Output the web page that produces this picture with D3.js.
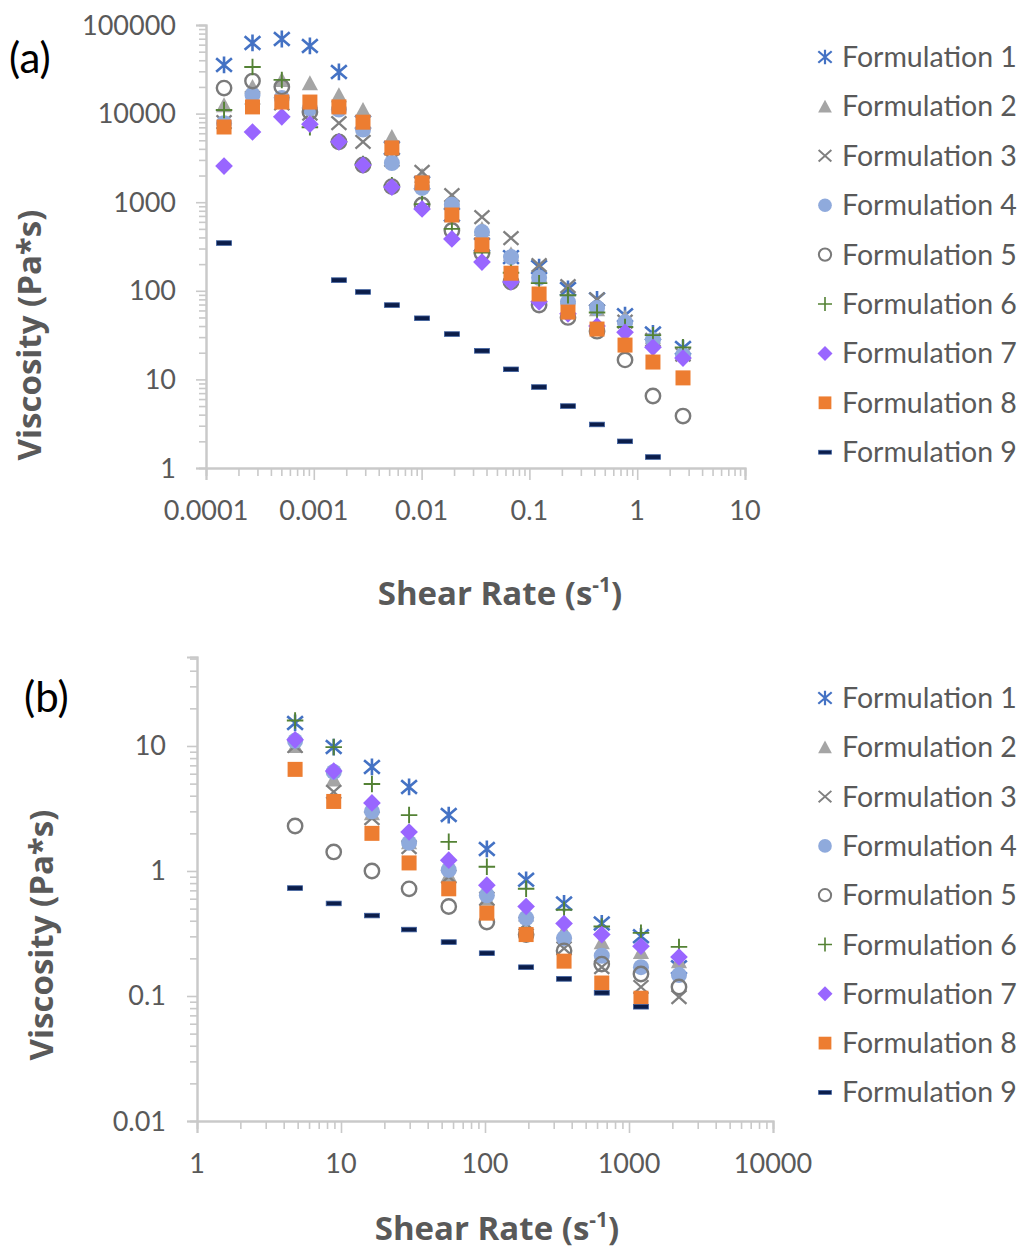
<!DOCTYPE html>
<html><head><meta charset="utf-8">
<script src="https://cdn.jsdelivr.net/npm/d3@7"></script>
<style>body{margin:0;background:#fff} svg{display:block}</style>
</head><body>
<svg id="c" width="1026" height="1249"></svg>
<script>
// ---------- DATA ----------
const SERIES_NAMES = ["Formulation 1","Formulation 2","Formulation 3","Formulation 4","Formulation 5","Formulation 6","Formulation 7","Formulation 8","Formulation 9"];

// Panel (a)
const SHEAR_A = [1.47e-4, 2.7e-4, 5.05e-4, 9.2e-4, 1.71e-3, 2.86e-3, 5.3e-3, 0.0101, 0.0191, 0.0363, 0.0675, 0.123, 0.228, 0.424, 0.771, 1.40, 2.66];
const F1_A = [35400, 62700, 69500, 58000, 29500, 8000, 4100, 1650, 720, 330, 240, 185, 105, 80, 53, 33, 22.6];
const F2_A = [12500, 20000, 24000, 22100, 16200, 11000, 5450, 2000, 1050, 500, 260, 150, 85, 62, 50, 30, 20];
const F3_A = [8000, 15000, 13000, 10000, 7800, 4800, 3000, 2200, 1205, 680, 394, 195, 113, 80, 45, 28, 19];
const F4_A = [7800, 16200, 15000, 11500, 11100, 6600, 2770, 1450, 935, 460, 240, 140, 75, 64, 44, 28, 18.8];
const F5_A = [19400, 23300, 20000, 10400, 4800, 2630, 1500, 930, 480, 267, 126, 69, 50, 35, 16.6, 6.5, 3.86];
const F6_A = [11000, 33600, 24000, 7000, 4800, 2700, 1550, 950, 500, 270, 160, 122, 89, 57, 39, 31.6, 23];
const F7_A = [2560, 6200, 9200, 7600, 4800, 2630, 1480, 840, 385, 211, 126, 75, 55, 40, 34, 23, 17.4];
const F8_A = [7060, 11900, 13500, 13500, 11900, 8000, 4100, 1650, 717, 330, 158, 92, 57.5, 37, 24.4, 15.7, 10.4];
const F9_A = [346, null, null, null, 132, 97, 69, 49, 32.5, 21, 13, 8.2, 5, 3.1, 2.0, 1.33, null];

// Panel (b)
const SHEAR_B = [4.8, 8.9, 16.4, 29.7, 56, 103, 193, 354, 647, 1211, 2224];
const F1_B = [15.3, 9.8, 6.8, 4.7, 2.8, 1.5, 0.85, 0.55, 0.38, 0.30, 0.17];
const F2_B = [10, 5.4, 2.9, 1.7, 0.93, 0.6, 0.45, 0.33, 0.27, 0.225, 0.19];
const F3_B = [10, 4.3, 2.65, 1.55, 0.9, 0.6, 0.38, 0.24, 0.17, 0.118, 0.098];
const F4_B = [11, 6.2, 3.0, 1.68, 1.02, 0.64, 0.42, 0.29, 0.21, 0.17, 0.147];
const F5_B = [2.29, 1.42, 1.0, 0.72, 0.52, 0.39, 0.31, 0.23, 0.18, 0.15, 0.118];
const F6_B = [16, 9.8, 4.96, 2.8, 1.71, 1.08, 0.72, 0.49, 0.36, 0.32, 0.247];
const F7_B = [11.2, 6.3, 3.5, 2.05, 1.22, 0.77, 0.52, 0.38, 0.31, 0.25, 0.205];
const F8_B = [6.5, 3.6, 2.0, 1.16, 0.72, 0.46, 0.31, 0.19, 0.127, 0.096, null];
const F9_B = [0.73, 0.55, 0.44, 0.34, 0.27, 0.22, 0.17, 0.137, 0.106, 0.082, null];

// Ticks
const Y_TICKS_A = [1, 10, 100, 1000, 10000, 100000];
const Y_LABELS_A = ["1", "10", "100", "1000", "10000", "100000"];
const X_TICKS_A = [0.0001, 0.001, 0.01, 0.1, 1, 10];
const X_LABELS_A = ["0.0001", "0.001", "0.01", "0.1", "1", "10"];
const Y_TICKS_B = [0.01, 0.1, 1, 10];
const Y_LABELS_B = ["0.01", "0.1", "1", "10"];
const X_TICKS_B = [1, 10, 100, 1000, 10000];
const X_LABELS_B = ["1", "10", "100", "1000", "10000"];

const Y_TITLE = "Viscosity (Pa*s)";
const X_TITLE = "Shear Rate (s";

// ---------- STYLE ----------
const MARKERS = ["star","triangle","x","dot","ring","plus","diamond","square","dash"];
const COLORS = ["#4472C4","#A5A5A5","#808080","#8FAADC","#7A7A7A","#548235","#9966FF","#ED7D31","#0B1D4A"];
const TXT = "#595959";
const AXIS = "#C9C9C9";
const FONT = "Lato, 'Open Sans', sans-serif";
const TFONT = "'Open Sans', Lato, sans-serif";

const svg = d3.select("#c");

function marker(g, type, color, k) {
  const s = 15 * k, h = s / 2;
  switch (type) {
    case "star":
      g.append("path").attr("d", `M${-h*1.05},${-h*0.9}L${h*1.05},${h*0.9}M${-h*1.05},${h*0.9}L${h*1.05},${-h*0.9}M0,${-h*1.12}L0,${h*1.12}`)
        .attr("stroke", color).attr("stroke-width", 2.6 * k).attr("fill", "none"); break;
    case "triangle":
      g.append("path").attr("d", `M0,${-h*1.05}L${h*1.08},${h*0.95}L${-h*1.08},${h*0.95}Z`).attr("fill", color); break;
    case "x":
      g.append("path").attr("d", `M${-h},${-h*0.9}L${h},${h*0.9}M${-h},${h*0.9}L${h},${-h*0.9}`)
        .attr("stroke", color).attr("stroke-width", 2.3 * k).attr("fill", "none"); break;
    case "dot":
      g.append("circle").attr("r", h * 1.07).attr("fill", color); break;
    case "ring":
      g.append("circle").attr("r", h - 0.3 * k).attr("fill", "none").attr("stroke", color).attr("stroke-width", 2.4 * k); break;
    case "plus":
      g.append("path").attr("d", `M${-h*1.1},0L${h*1.1},0M0,${-h*1.1}L0,${h*1.1}`)
        .attr("stroke", color).attr("stroke-width", 1.9 * k).attr("fill", "none"); break;
    case "diamond":
      g.append("path").attr("d", `M0,${-h*1.18}L${h*1.18},0L0,${h*1.18}L${-h*1.18},0Z`).attr("fill", color); break;
    case "square":
      g.append("rect").attr("x", -h).attr("y", -h).attr("width", s).attr("height", s).attr("fill", color); break;
    case "dash":
      g.append("rect").attr("x", -h).attr("y", -2.3 * k).attr("width", s).attr("height", 4.6 * k)
        .attr("fill", color).attr("stroke", "#3D5F9E").attr("stroke-width", 0.8); break;
  }
}

function minorTicks(domain) {
  const out = [];
  const lo = Math.floor(Math.log10(domain[0])), hi = Math.ceil(Math.log10(domain[1]));
  for (let e = lo; e < hi; e++) for (let m = 2; m <= 9; m++) {
    const v = m * Math.pow(10, e);
    if (v >= domain[0] * 0.999 && v <= domain[1] * 1.001) out.push(v);
  }
  return out;
}

function panel(cfg) {
  const x = d3.scaleLog().domain(cfg.xDom).range(cfg.xRange);
  const y = d3.scaleLog().domain(cfg.yDom).range(cfg.yRange);
  const g = svg.append("g");

  const yMinor = g.append("g").attr("transform", `translate(${cfg.xRange[0]},0)`)
    .call(d3.axisLeft(y).tickValues(minorTicks(cfg.yDom)).tickSize(7).tickFormat(""));
  const yMajor = g.append("g").attr("transform", `translate(${cfg.xRange[0]},0)`)
    .call(d3.axisLeft(y).tickValues(cfg.yTicks).tickSize(10).tickFormat(""));
  const xMinor = g.append("g").attr("transform", `translate(0,${cfg.yRange[0]})`)
    .call(d3.axisBottom(x).tickValues(minorTicks(cfg.xDom)).tickSize(8).tickFormat(""));
  const xMajor = g.append("g").attr("transform", `translate(0,${cfg.yRange[0]})`)
    .call(d3.axisBottom(x).tickValues(cfg.xTicks).tickSize(12).tickFormat(""));
  [yMinor, yMajor, xMinor, xMajor].forEach(a => {
    a.selectAll("path.domain").attr("stroke", AXIS).attr("stroke-width", 2);
    a.selectAll(".tick line").attr("stroke", AXIS).attr("stroke-width", 1.6);
  });

  g.selectAll(".yl").data(cfg.yTicks).join("text")
    .attr("x", cfg.yLabelX).attr("y", d => y(d) + 9.5)
    .attr("text-anchor", "end").attr("fill", TXT)
    .style("font", `27px ${FONT}`).text((d, i) => cfg.yLabels[i]);
  g.selectAll(".xl").data(cfg.xTicks).join("text")
    .attr("x", d => x(d)).attr("y", cfg.xLabelY)
    .attr("text-anchor", "middle").attr("fill", TXT)
    .style("font", `27px ${FONT}`).text((d, i) => cfg.xLabels[i]);

  g.append("text").attr("transform", `translate(${cfg.yTitleX},${cfg.yTitleY}) rotate(-90)`)
    .attr("text-anchor", "middle").attr("fill", TXT)
    .style("font", `bold 33px ${TFONT}`).text(Y_TITLE);
  const xt = g.append("text").attr("x", cfg.xTitleX).attr("y", cfg.xTitleY)
    .attr("text-anchor", "middle").attr("fill", TXT).style("font", `bold 33px ${TFONT}`);
  xt.append("tspan").text(X_TITLE);
  xt.append("tspan").attr("dy", -13).style("font-size", "21px").text("-1");
  xt.append("tspan").attr("dy", 13).text(")");

  g.append("text").attr("x", cfg.tagX).attr("y", cfg.tagY).attr("fill", "#000")
    .style("font", `42px ${FONT}`).text(cfg.tag);

  cfg.series.forEach((vals, si) => {
    const pts = vals.map((v, i) => ({ x: cfg.xs[i], v })).filter(p => p.v != null);
    g.append("g").selectAll("g").data(pts).join("g")
      .attr("transform", p => `translate(${x(p.x)},${y(p.v)})`)
      .each(function () { marker(d3.select(this), MARKERS[si], COLORS[si], 1); });
  });

  SERIES_NAMES.forEach((name, i) => {
    const cy = cfg.legY0 + i * cfg.legDy;
    const mg = g.append("g").attr("transform", `translate(825,${cy})`);
    marker(mg, MARKERS[i], COLORS[i], 0.85);
    g.append("text").attr("x", 842).attr("y", cy + 10).attr("fill", TXT)
      .style("font", `28.5px ${FONT}`).text(name);
  });
}

panel({
  xs: SHEAR_A, series: [F1_A, F2_A, F3_A, F4_A, F5_A, F6_A, F7_A, F8_A, F9_A],
  xDom: [1e-4, 10], xRange: [206, 745],
  yDom: [1, 1e5], yRange: [468, 25],
  yTicks: Y_TICKS_A, yLabels: Y_LABELS_A, xTicks: X_TICKS_A, xLabels: X_LABELS_A,
  yLabelX: 176, xLabelY: 520,
  yTitleX: 41, yTitleY: 335, xTitleX: 500, xTitleY: 605,
  tag: "(a)", tagX: 9, tagY: 73,
  legY0: 57, legDy: 49.4
});

panel({
  xs: SHEAR_B, series: [F1_B, F2_B, F3_B, F4_B, F5_B, F6_B, F7_B, F8_B, F9_B],
  xDom: [1, 1e4], xRange: [197, 773],
  yDom: [0.01, 51.5], yRange: [1121, 657],
  yTicks: Y_TICKS_B, yLabels: Y_LABELS_B, xTicks: X_TICKS_B, xLabels: X_LABELS_B,
  yLabelX: 166, xLabelY: 1173,
  yTitleX: 53, yTitleY: 935, xTitleX: 497, xTitleY: 1240,
  tag: "(b)", tagX: 24, tagY: 712,
  legY0: 698, legDy: 49.3
});
</script>
</body></html>
